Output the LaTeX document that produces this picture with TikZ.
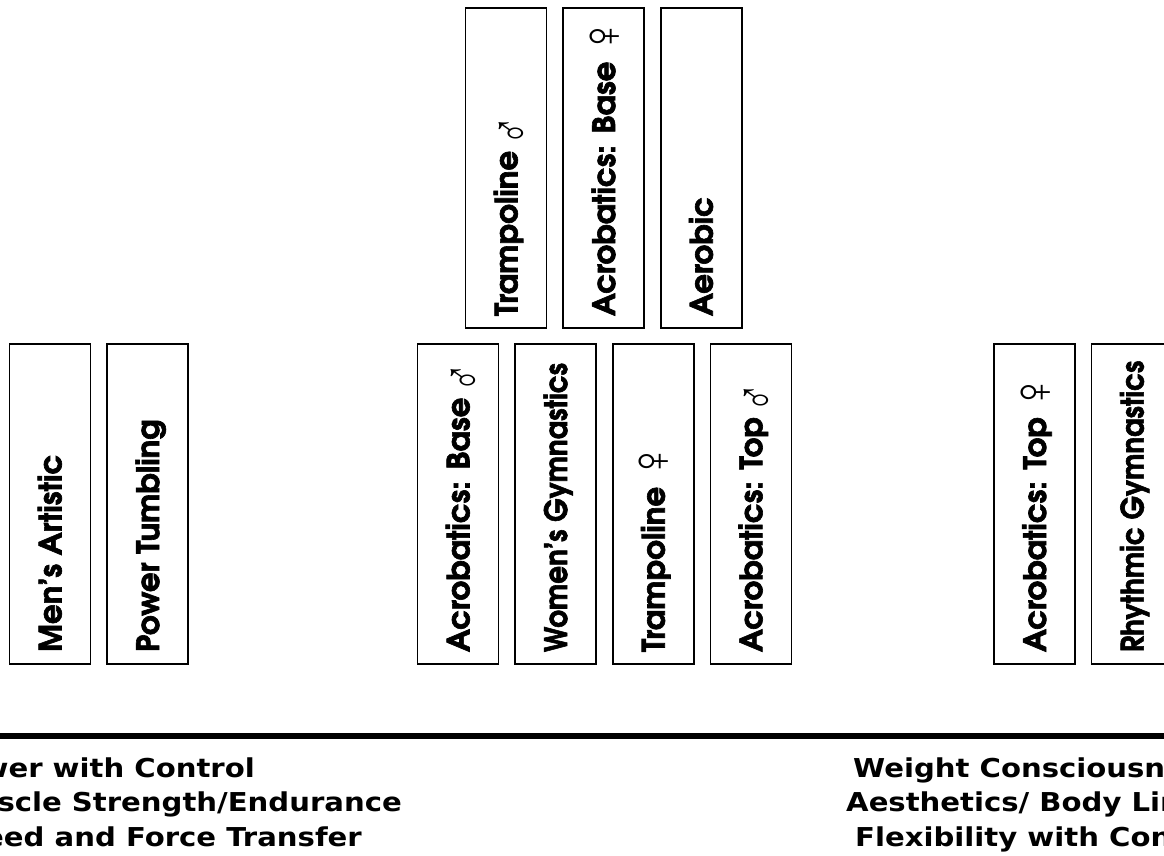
\documentclass[tikz,border=0pt]{standalone}
\usepackage{fontspec}
\usepackage{graphicx}
\usetikzlibrary{positioning}
\newfontfamily\spinefont{texgyreadventor}[Extension=.otf, UprightFont=*-bold, FakeBold=2]
\newfontfamily\symfont{Liberation Sans}
\newfontfamily\notefont{DejaVu Sans}[FakeStretch=1.12]
\newcommand{\spine}[2][1]{\rotatebox{90}{\makebox[296pt][l]{\raisebox{0pt}[23pt][0pt]{\scalebox{#1}[1]{\fontsize{31}{36}\spinefont #2}}}}}
\newcommand{\msym}{\hspace{5pt}\raisebox{-13pt}{\scalebox{0.7}[1]{\fontsize{56}{56}\symfont ♂}}}
\newcommand{\fsym}{\hspace{6pt}\raisebox{-6pt}{\scalebox{0.9}[1]{\fontsize{56}{56}\symfont ♀}}}

\begin{document}
\begin{tikzpicture}[x=1pt, y=-1pt,
        sport/.style={draw, line width=1.6pt, minimum width=81pt, minimum height=320pt, inner sep=0pt},
        note/.style={inner sep=0pt, font=\fontsize{26}{34.5}\notefont\bfseries}]
        \useasboundingbox (0, 0) rectangle (1164, 856);
        \clip (0, 0) rectangle (1164, 856);
        \node[sport] (trampm) at (506, 168) {\spine{Trampoline\msym}};
        \node[sport, right=15pt of trampm] (acrobasef) {\spine{Acrobatics: Base\fsym}};
        \node[sport, right=15pt of acrobasef] (aerobic) {\spine{Aerobic}};
        \node[sport] (mart) at (50, 504) {\spine{Men’s Artistic}};
        \node[sport, right=15pt of mart] (tumbling) {\spine{Power Tumbling}};
        \node[sport] (acrobasem) at (458, 504) {\spine{Acrobatics: Base\msym}};
        \node[sport, right=15pt of acrobasem] (wag) {\spine[0.9]{Women’s Gymnastics}};
        \node[sport, right=15pt of wag] (trampf) {\spine{Trampoline\fsym}};
        \node[sport, right=15pt of trampf] (acrotopm) {\spine{Acrobatics: Top\msym}};
        \node[sport] (acrotopf) at (1034.5, 504) {\spine{Acrobatics: Top\fsym}};
        \node[sport, right=15pt of acrotopf] (rhythmic) {\spine[0.9]{Rhythmic Gymnastics}};
        \draw[line width=5.5pt] (0, 736) -- (1164, 736);
        \node[note, anchor=base east] (power) at (255, 777) {Power with Control};
        \node[note, anchor=base east] (muscle) at (402, 811) {Muscle Strength/Endurance};
        \node[note, anchor=base east] (speed) at (362, 846) {Speed and Force Transfer};
        \node[note, anchor=base west] (weight) at (853, 777) {Weight Consciousness};
        \node[note, anchor=base west] (aesth) at (846, 811) {Aesthetics/ Body Lines};
        \node[note, anchor=base west] (flex) at (855, 846) {Flexibility with Control};
    \end{tikzpicture}
\end{document}
